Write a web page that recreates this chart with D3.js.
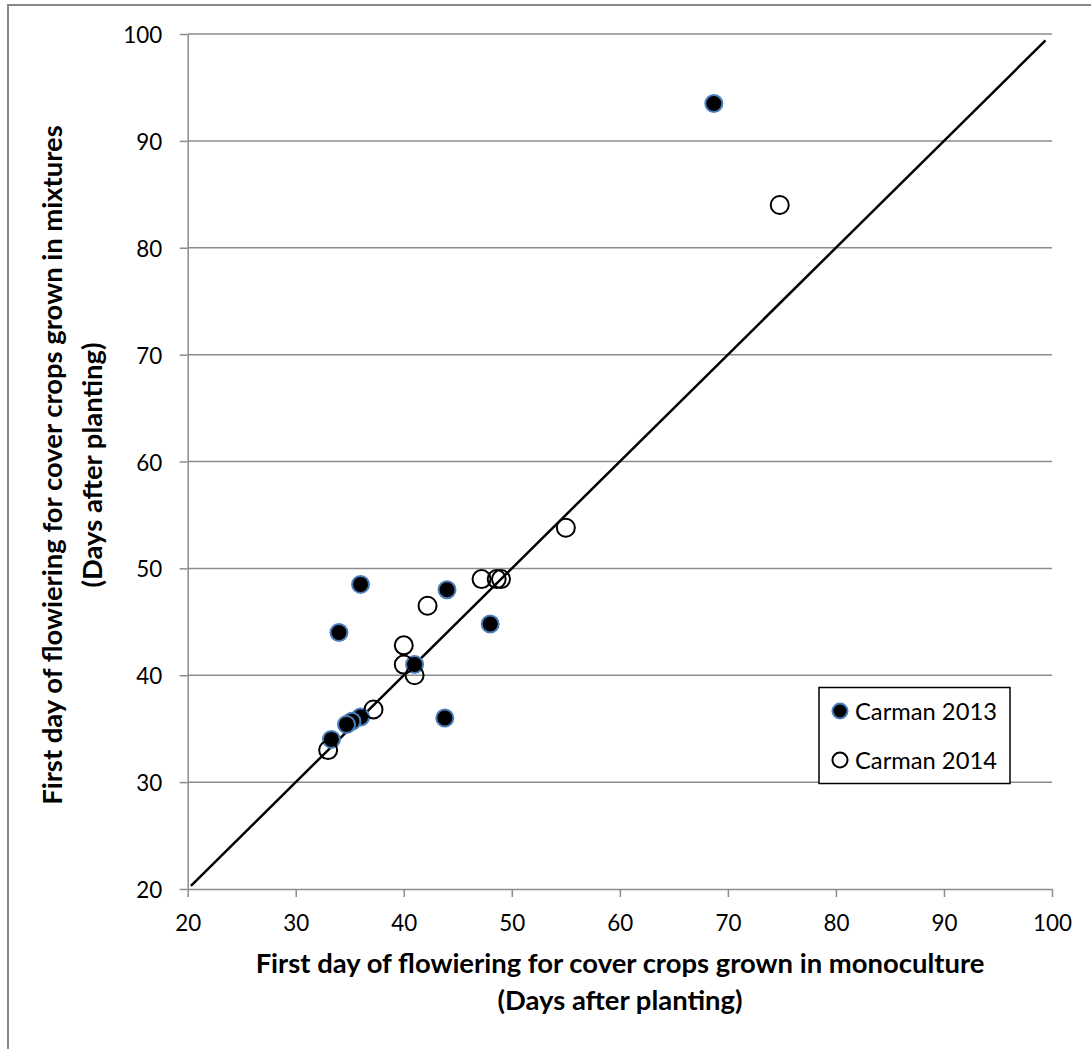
<!DOCTYPE html>
<html><head><meta charset="utf-8">
<script src="https://cdn.jsdelivr.net/npm/d3@7"></script>
<style>html,body{margin:0;padding:0;background:#fff;}svg{display:block;}</style>
</head><body>
<script>
const x2013 = [68.7, 36, 44, 34, 48, 41, 43.8, 36, 35.2, 34.7, 33.3];
const y2013 = [93.5, 48.5, 48, 44, 44.8, 41, 36, 36.1, 35.7, 35.4, 34];
const x2014 = [74.8, 55, 47.2, 48.6, 49, 42.2, 40, 40, 41, 37.2, 33];
const y2014 = [84, 53.8, 49, 49, 49, 46.5, 42.8, 41, 40, 36.8, 33];
const tickValues = [20, 30, 40, 50, 60, 70, 80, 90, 100];
const lineX = [20.3, 99.4];
const seriesNames = ["Carman 2013", "Carman 2014"];
const xTitle = ["First day of flowiering for cover crops grown in monoculture", "(Days after planting)"];
const yTitle = ["First day of flowiering for cover crops grown in mixtures", "(Days after planting)"];

const W = 1091, H = 1049;
const font = "Lato, 'Open Sans', sans-serif";
const svg = d3.select("body").append("svg").attr("width", W).attr("height", H);

// fit a font size so that a sample text has a given width
function fitSize(text, weight, targetW) {
  const t = svg.append("text").attr("font-family", font).attr("font-size", 20)
    .attr("font-weight", weight).text(text);
  const w = t.node().getComputedTextLength();
  t.remove();
  return 20 * targetW / w;
}
const tickFS = fitSize("100", "normal", 39);
const titleFS = fitSize(xTitle[0], "bold", 729);
const legFS = fitSize(seriesNames[0], "normal", 142);

// outer border
svg.append("rect").attr("x", 8).attr("y", 5).attr("width", 1200).attr("height", 1200)
  .attr("fill", "none").attr("stroke", "#888").attr("stroke-width", 2);

const x = d3.scaleLinear().domain([20, 100]).range([187.7, 1052]);
const y = d3.scaleLinear().domain([20, 100]).range([889, 34]);

// gridlines
svg.append("g").selectAll("line").data(tickValues.slice(1)).join("line")
  .attr("x1", x(20)).attr("x2", x(100))
  .attr("y1", d => y(d)).attr("y2", d => y(d))
  .attr("stroke", "#8c8c8c").attr("stroke-width", 1.5);

const gy = svg.append("g").attr("transform", `translate(${x(20)},0)`)
  .call(d3.axisLeft(y).tickValues(tickValues).tickSize(8).tickSizeOuter(0));
const gx = svg.append("g").attr("transform", `translate(0,${y(20)})`)
  .call(d3.axisBottom(x).tickValues(tickValues).tickSize(8).tickSizeOuter(0));
[gx, gy].forEach(g => {
  g.select(".domain").attr("stroke", "#8c8c8c").attr("stroke-width", 1.5);
  g.selectAll(".tick line").attr("stroke", "#8c8c8c").attr("stroke-width", 1.5);
  g.selectAll("text").attr("font-family", font).attr("font-size", tickFS).attr("fill", "#000");
});
gy.selectAll(".tick text").attr("x", -25.5).attr("dy", 8.5);
gx.selectAll(".tick text").attr("y", 42).attr("dy", 0);

// 1:1 line
svg.append("line")
  .attr("x1", x(lineX[0])).attr("y1", y(lineX[0]))
  .attr("x2", x(lineX[1])).attr("y2", y(lineX[1]))
  .attr("stroke", "#000").attr("stroke-width", 2.5);

const d13 = x2013.map((v, i) => [v, y2013[i]]);
const d14 = x2014.map((v, i) => [v, y2014[i]]);

svg.append("g").selectAll("circle").data(d13).join("circle")
  .attr("cx", d => x(d[0])).attr("cy", d => y(d[1])).attr("r", 8.5)
  .attr("fill", "#000").attr("stroke", "#4a7ebb").attr("stroke-width", 2);
svg.append("g").selectAll("circle").data(d14).join("circle")
  .attr("cx", d => x(d[0])).attr("cy", d => y(d[1])).attr("r", 9)
  .attr("fill", "none").attr("stroke", "#000").attr("stroke-width", 2);

// axis titles
const xt = svg.append("text").attr("font-family", font).attr("font-size", titleFS).attr("font-weight", "bold")
  .attr("text-anchor", "middle").attr("fill", "#000");
xt.append("tspan").attr("x", 620).attr("y", 973).text(xTitle[0]);
xt.append("tspan").attr("x", 620).attr("y", 1010).text(xTitle[1]);

const yt = svg.append("text").attr("font-family", font).attr("font-size", titleFS).attr("font-weight", "bold")
  .attr("text-anchor", "middle").attr("fill", "#000")
  .attr("transform", "translate(0,465) rotate(-90)");
yt.append("tspan").attr("x", 0).attr("y", 62).text(yTitle[0]);
yt.append("tspan").attr("x", 0).attr("y", 102).text(yTitle[1]);

// legend
const lg = svg.append("g");
lg.append("rect").attr("x", 819).attr("y", 687.5).attr("width", 191).attr("height", 96)
  .attr("fill", "#fff").attr("stroke", "#000").attr("stroke-width", 1.5);
const legY = [711, 760];
lg.append("circle").attr("cx", 840).attr("cy", legY[0]).attr("r", 7.5)
  .attr("fill", "#000").attr("stroke", "#4a7ebb").attr("stroke-width", 2);
lg.append("circle").attr("cx", 840).attr("cy", legY[1]).attr("r", 7.5)
  .attr("fill", "#fff").attr("stroke", "#000").attr("stroke-width", 2);
seriesNames.forEach((n, i) => {
  lg.append("text").attr("x", 855).attr("y", legY[i] + 8.5)
    .attr("font-family", font).attr("font-size", legFS).attr("fill", "#000").text(n);
});
</script>
</body></html>
